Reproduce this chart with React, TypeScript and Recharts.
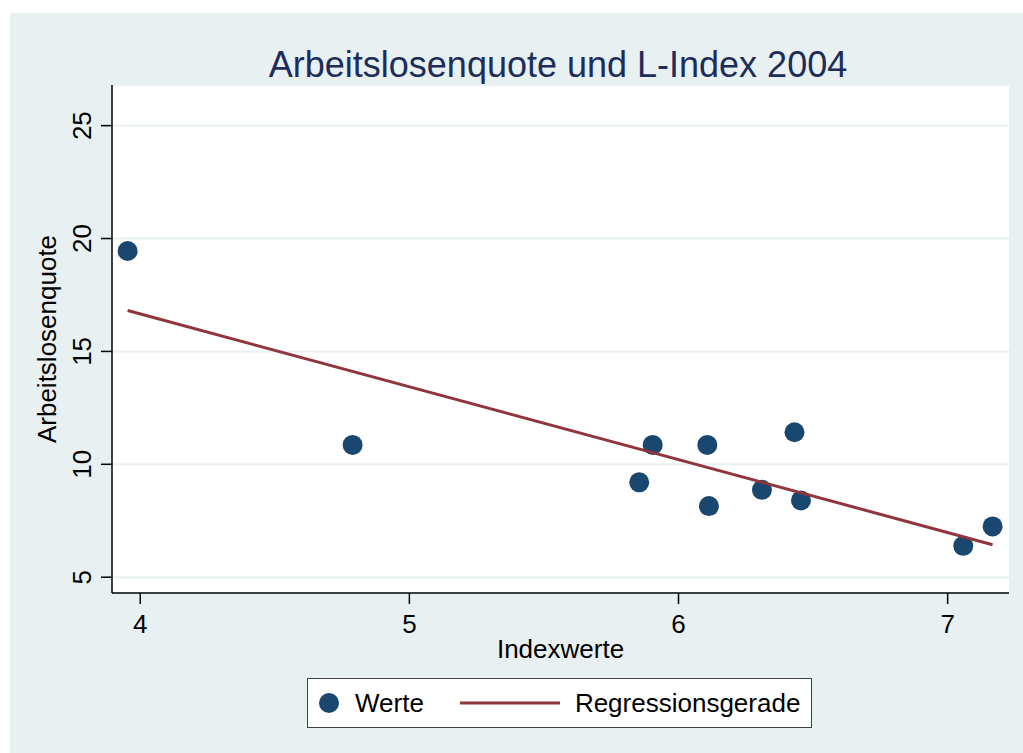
import React from "react";
import {
  ScatterChart,
  Scatter,
  XAxis,
  YAxis,
  CartesianGrid,
  Legend,
  Label,
} from "recharts";

// ---- data ----
const indexValues = [3.953, 4.789, 5.854, 5.904, 6.107, 6.113, 6.31, 6.431, 6.455, 7.058, 7.167];
const quoteValues = [19.45, 10.86, 9.2, 10.86, 10.86, 8.15, 8.87, 11.42, 8.4, 6.39, 7.25];
const fitIndex = [3.953, 7.167];
const fitQuote = [16.81, 6.44];
const xTicks = [4, 5, 6, 7];
const yTicks = [5, 10, 15, 20, 25];
const seriesNames = ["Werte", "Regressionsgerade"];
const titleText = "Arbeitslosenquote und L-Index 2004";
const xTitle = "Indexwerte";
const yTitle = "Arbeitslosenquote";

const points = indexValues.map((x, i) => ({ x, y: quoteValues[i] }));
const fitLine = fitIndex.map((x, i) => ({ x, y: fitQuote[i] }));

const W = 1023;
const H = 753;
const NAVY = "#1a476f";
const MAROON = "#90353b";
const BG = "#e8f0f2";
const GRID = "#e8f0f2";
const FONT = "'Liberation Sans', Arial, Helvetica, sans-serif";

const XTick = (props: any) => {
  const { x, y, payload } = props;
  return (
    <text x={x} y={y + 27} textAnchor="middle" fontSize={26} fill="#000" fontFamily={FONT}>
      {payload.value}
    </text>
  );
};

const YTick = (props: any) => {
  const { y, payload } = props;
  return (
    <text
      x={0}
      y={0}
      transform={`translate(91, ${y}) rotate(-90)`}
      textAnchor="middle"
      fontSize={26}
      fill="#000"
      fontFamily={FONT}
    >
      {payload.value}
    </text>
  );
};

const renderLegend = (props: any) => {
  const payload = [...((props.payload || []) as any[])].sort(
    (a: any, b: any) => seriesNames.indexOf(a.value) - seriesNames.indexOf(b.value)
  );
  return (
    <div
      style={{
        boxSizing: "border-box",
        width: 505,
        height: 50,
        background: "#fff",
        border: "1.5px solid #404040",
        display: "flex",
        alignItems: "center",
        fontFamily: FONT,
        fontSize: 26,
        color: "#000",
      }}
    >
      {payload.map((entry: any, i: number) => {
        const isLine = entry.value === seriesNames[1];
        return (
          <div key={i} style={{ display: "flex", alignItems: "center", marginLeft: i === 0 ? 10 : 36 }}>
            {isLine ? (
              <svg width={100} height={10} style={{ display: "block" }}>
                <line x1={0} y1={5} x2={100} y2={5} stroke={MAROON} strokeWidth={3} />
              </svg>
            ) : (
              <svg width={22} height={22} style={{ display: "block" }}>
                <circle cx={11} cy={11} r={10} fill={NAVY} />
              </svg>
            )}
            <span style={{ marginLeft: 15, lineHeight: "26px" }}>{entry.value}</span>
          </div>
        );
      })}
    </div>
  );
};

export default function App() {
  return (
    <div style={{ position: "absolute", left: 0, top: 0, width: W, height: H, background: "#fff" }}>
      <div style={{ position: "absolute", left: 10, top: 13, width: W - 10, height: H - 13, background: BG }} />
      <svg
        width={W}
        height={100}
        style={{ position: "absolute", left: 0, top: 0 }}
      >
        <text x={558} y={77} textAnchor="middle" fontSize={36} fill="#1c2d5a" fontFamily={FONT}>
          {titleText}
        </text>
      </svg>
      <div style={{ position: "absolute", left: 0, top: 0 }}>
        <ScatterChart
          width={W}
          height={H}
          margin={{ top: 85, right: 14, bottom: 0, left: 0 }}
        >
          <CartesianGrid
            fill="#fff"
            vertical={false}
            horizontal={true}
            stroke={GRID}
            strokeWidth={2}
          />
          <XAxis
            type="number"
            dataKey="x"
            domain={[3.895, 7.228]}
            ticks={xTicks}
            allowDataOverflow
            height={160}
            tickSize={11}
            axisLine={{ stroke: "#000", strokeWidth: 1.5 }}
            tickLine={{ stroke: "#000", strokeWidth: 1.5 }}
            tick={<XTick />}
            interval={0}
          >
            <Label
              content={(p: any) => {
                const vb = p.viewBox || {};
                return (
                  <text
                    x={vb.x + vb.width / 2}
                    y={658}
                    textAnchor="middle"
                    fontSize={26}
                    fill="#000"
                    fontFamily={FONT}
                  >
                    {xTitle}
                  </text>
                );
              }}
            />
          </XAxis>
          <YAxis
            type="number"
            dataKey="y"
            domain={[4.3, 26.8]}
            ticks={yTicks}
            allowDataOverflow
            width={112}
            tickSize={11}
            axisLine={{ stroke: "#000", strokeWidth: 1.5 }}
            tickLine={{ stroke: "#000", strokeWidth: 1.5 }}
            tick={<YTick />}
            interval={0}
          >
            <Label
              content={(p: any) => {
                const vb = p.viewBox || {};
                const cy = vb.y + vb.height / 2;
                return (
                  <text
                    x={0}
                    y={0}
                    transform={`translate(56, ${cy}) rotate(-90)`}
                    textAnchor="middle"
                    fontSize={26}
                    fill="#000"
                    fontFamily={FONT}
                  >
                    {yTitle}
                  </text>
                );
              }}
            />
          </YAxis>
          <Scatter
            name={seriesNames[0]}
            data={points}
            fill={NAVY}
            isAnimationActive={false}
            shape={(p: any) => <circle cx={p.cx} cy={p.cy} r={10} fill={NAVY} />}
          />
          <Scatter
            name={seriesNames[1]}
            data={fitLine}
            fill={MAROON}
            legendType="line"
            line={{ stroke: MAROON, strokeWidth: 3 }}
            isAnimationActive={false}
            shape={() => <g />}
          />
          <Legend
            layout="horizontal"
            verticalAlign="middle"
            align="center"
            content={renderLegend}
            wrapperStyle={{ left: 307, top: 678, width: 505, height: 50 }}
          />
        </ScatterChart>
      </div>
    </div>
  );
}
